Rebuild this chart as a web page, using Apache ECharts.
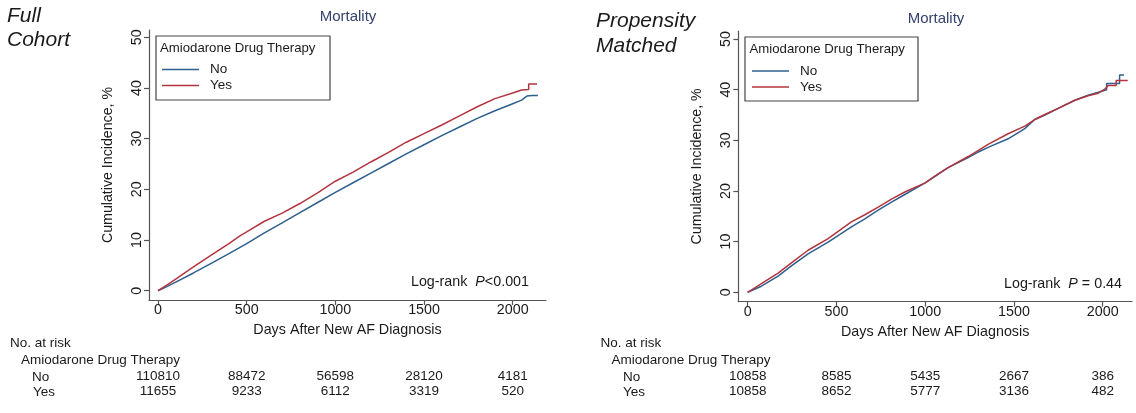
<!DOCTYPE html>
<html>
<head>
<meta charset="utf-8">
<script src="https://cdn.jsdelivr.net/npm/echarts@6/dist/echarts.min.js"></script>
<style>
html,body{margin:0;padding:0;background:#fff;}
#chart{width:1136px;height:413px;}
</style>
</head>
<body>
<div id="chart"></div>
<script>
// ---------- data ----------
var xTicks = [0, 500, 1000, 1500, 2000];
var yTicks = [0, 10, 20, 30, 40, 50];
var groupNames = ['No', 'Yes'];

// Full cohort
var fullNoDays = [0, 50, 100, 200, 300, 400, 500, 600, 700, 800, 900, 1000, 1100, 1200, 1300, 1400, 1500, 1600, 1700, 1800, 1900, 2000, 2050, 2080, 2110, 2142];
var fullNoPct  = [0, 0.8, 1.7, 3.5, 5.4, 7.3, 9.3, 11.4, 13.4, 15.4, 17.4, 19.4, 21.3, 23.2, 25.1, 27.0, 28.8, 30.6, 32.3, 34.0, 35.5, 36.9, 37.6, 38.4, 38.5, 38.5];
var fullYesDays = [0, 50, 100, 200, 300, 400, 462, 500, 600, 700, 800, 900, 1000, 1100, 1200, 1300, 1400, 1500, 1600, 1700, 1800, 1900, 2000, 2050, 2090, 2090, 2137];
var fullYesPct  = [0, 1.1, 2.3, 4.7, 7.0, 9.3, 10.8, 11.6, 13.7, 15.3, 17.2, 19.3, 21.6, 23.4, 25.4, 27.3, 29.3, 31.0, 32.7, 34.5, 36.3, 37.9, 39.0, 39.6, 39.7, 40.8, 40.8];

// Propensity matched
var pmNoDays = [0, 77, 171, 250, 340, 453, 584, 660, 735, 810, 885, 1000, 1060, 1129, 1242, 1300, 1354, 1467, 1561, 1617, 1680, 1749, 1843, 1918, 1975, 2022, 2022, 2095, 2095, 2120];
var pmNoPct  = [0, 1.2, 3.2, 5.3, 7.6, 9.9, 12.9, 14.5, 16.2, 17.8, 19.3, 21.6, 23.0, 24.6, 26.6, 27.7, 28.6, 30.3, 32.3, 34.1, 35.1, 36.3, 37.9, 38.9, 39.5, 40.0, 41.2, 41.2, 42.9, 42.9];
var pmYesDays = [0, 77, 171, 250, 340, 453, 584, 660, 735, 810, 885, 1000, 1060, 1129, 1242, 1300, 1354, 1467, 1561, 1617, 1680, 1749, 1843, 1918, 1975, 2012, 2030, 2076, 2076, 2141];
var pmYesPct  = [0, 1.7, 3.8, 5.9, 8.3, 10.6, 13.9, 15.3, 16.8, 18.4, 19.8, 21.6, 23.1, 24.6, 26.8, 28.0, 29.2, 31.3, 32.8, 34.1, 35.2, 36.3, 37.9, 38.8, 39.3, 40.1, 40.8, 40.8, 41.8, 41.8];

// Numbers at risk
var riskTicks = [0, 500, 1000, 1500, 2000];
var fullRiskNo  = [110810, 88472, 56598, 28120, 4181];
var fullRiskYes = [11655, 9233, 6112, 3319, 520];
var pmRiskNo    = [10858, 8585, 5435, 2667, 386];
var pmRiskYes   = [10858, 8652, 5777, 3136, 482];

// ---------- styling ----------
var FONT = '"Liberation Sans", Arial, Helvetica, sans-serif';
var AXIS = '#555555';
var TEXT = '#1a1a1a';
var BLUE = '#2e5f8e';
var RED = '#b3343e';

function pairs(xs, ys) { return xs.map(function (x, i) { return [x, ys[i]]; }); }
function plain(v) { return String(v); }

function mainX(gi, min, max) {
  return {
    type: 'value', gridIndex: gi, min: min, max: max, position: 'bottom',
    axisLine: { show: true, onZero: false, lineStyle: { color: AXIS, width: 1.2 } },
    axisTick: { show: true, customValues: xTicks, length: 5, lineStyle: { color: AXIS, width: 1.2 } },
    axisLabel: { customValues: xTicks, formatter: plain, margin: 3, fontSize: 14.3, color: TEXT, fontFamily: FONT },
    splitLine: { show: false },
    name: 'Days After New AF Diagnosis', nameLocation: 'middle', nameGap: 23,
    nameTextStyle: { fontSize: 14.3, color: TEXT, fontFamily: FONT }
  };
}
function riskX(gi, min, max, offset, counts) {
  return {
    type: 'value', gridIndex: gi, min: min, max: max, position: 'bottom', offset: offset,
    axisLine: { show: false }, axisTick: { show: false }, splitLine: { show: false },
    axisLabel: {
      customValues: riskTicks, margin: 0, fontSize: 13.5, color: TEXT, fontFamily: FONT,
      formatter: function (v) { var i = riskTicks.indexOf(v); return i >= 0 ? String(counts[i]) : ''; }
    }
  };
}
function mainY(gi, min, max) {
  return {
    type: 'value', gridIndex: gi, min: min, max: max,
    axisLine: { show: true, onZero: false, lineStyle: { color: AXIS, width: 1.2 } },
    axisTick: { show: true, customValues: yTicks, length: 5, lineStyle: { color: AXIS, width: 1.2 } },
    axisLabel: { customValues: yTicks, formatter: plain, rotate: 90, margin: 5, fontSize: 14.3, color: TEXT, fontFamily: FONT },
    splitLine: { show: false },
    name: 'Cumulative Incidence, %', nameLocation: 'middle', nameGap: 34, nameRotate: 90,
    nameTextStyle: { fontSize: 14.2, color: TEXT, fontFamily: FONT }
  };
}
function curve(name, xi, data, color) {
  return {
    type: 'line', name: name, xAxisIndex: xi, yAxisIndex: xi, data: data,
    symbol: 'none', showSymbol: false, smooth: false, animation: false,
    lineStyle: { color: color, width: 1.5 }, itemStyle: { color: color }
  };
}
function txt(x, y, text, size, opts) {
  opts = opts || {};
  return {
    type: 'text', x: x, y: y, silent: true,
    style: {
      text: text, fontSize: size, fontFamily: FONT, fill: opts.fill || TEXT,
      fontStyle: opts.italic ? 'italic' : 'normal',
      align: opts.align || 'left', verticalAlign: 'middle',
      textAlign: opts.align || 'left', textVerticalAlign: 'middle',
      rich: opts.rich
    }
  };
}
function legendBox(x, y, w, h) {
  return { type: 'rect', silent: true, shape: { x: x, y: y, width: w, height: h },
    style: { fill: '#fff', stroke: '#444', lineWidth: 1.2 }, z: 0 };
}
function legendOf(left, top) {
  return {
    data: groupNames, orient: 'vertical', left: left, top: top, padding: 0, itemGap: 0,
    icon: 'rect', itemWidth: 37, itemHeight: 1.6, z: 10,
    textStyle: { fontSize: 13.5, fontFamily: FONT, color: TEXT, lineHeight: 16, padding: [0, 0, 0, 6] }
  };
}
var logRich = {
  n: { fontSize: 14.3, fontFamily: FONT, fill: TEXT },
  p: { fontSize: 14.3, fontFamily: FONT, fill: TEXT, fontStyle: 'italic' }
};

var L = { min: -50.7, max: 2187.7, ymin: -1.835, ymax: 51.44 };
var R = { min: -53, max: 2165, ymin: -1.86, ymax: 51.58 };

var option = {
  animation: false,
  backgroundColor: '#ffffff',
  grid: [
    { left: 149, right: 1136 - 546, top: 30, bottom: 413 - 300, containLabel: false },
    { left: 738.3, right: 1136 - 1132, top: 31, bottom: 413 - 301.7, containLabel: false }
  ],
  xAxis: [
    mainX(0, L.min, L.max),
    mainX(1, R.min, R.max),
    riskX(0, L.min, L.max, 69, fullRiskNo),
    riskX(0, L.min, L.max, 84.5, fullRiskYes),
    riskX(1, R.min, R.max, 67.5, pmRiskNo),
    riskX(1, R.min, R.max, 83, pmRiskYes)
  ],
  yAxis: [ mainY(0, L.ymin, L.ymax), mainY(1, R.ymin, R.ymax) ],
  legend: [ legendOf(162, 61.5), legendOf(752, 63) ],
  series: [
    curve('No', 0, pairs(fullNoDays, fullNoPct), BLUE),
    curve('Yes', 0, pairs(fullYesDays, fullYesPct), RED),
    curve('No', 1, pairs(pmNoDays, pmNoPct), BLUE),
    curve('Yes', 1, pairs(pmYesDays, pmYesPct), RED)
  ],
  graphic: [
    legendBox(156, 36, 174, 64),
    legendBox(745, 37, 173, 64),
    txt(160, 48.5, 'Amiodarone Drug Therapy', 13.2),
    txt(749.5, 49.5, 'Amiodarone Drug Therapy', 13.2),
    txt(348, 17, 'Mortality', 15, { fill: '#34426e', align: 'center' }),
    txt(936, 19, 'Mortality', 15, { fill: '#34426e', align: 'center' }),
    txt(7, 16, 'Full', 21, { italic: true }),
    txt(7, 40, 'Cohort', 21, { italic: true }),
    txt(596, 21, 'Propensity', 21, { italic: true }),
    txt(596, 46, 'Matched', 21, { italic: true }),
    txt(529, 282, '{n|Log-rank  }{p|P}{n|<0.001}', 14.3, { align: 'right', rich: logRich }),
    txt(1122, 284, '{n|Log-rank  }{p|P}{n| = 0.44}', 14.3, { align: 'right', rich: logRich }),
    txt(10, 343, 'No. at risk', 13.5),
    txt(21, 360, 'Amiodarone Drug Therapy', 13.5),
    txt(32, 377, 'No', 13.5),
    txt(33, 392.5, 'Yes', 13.5),
    txt(600.5, 343, 'No. at risk', 13.5),
    txt(611.5, 360, 'Amiodarone Drug Therapy', 13.5),
    txt(623, 377, 'No', 13.5),
    txt(623, 392.5, 'Yes', 13.5)
  ]
};

var chart = echarts.init(document.getElementById('chart'), null, { renderer: 'canvas' });
chart.setOption(option);
</script>
</body>
</html>
